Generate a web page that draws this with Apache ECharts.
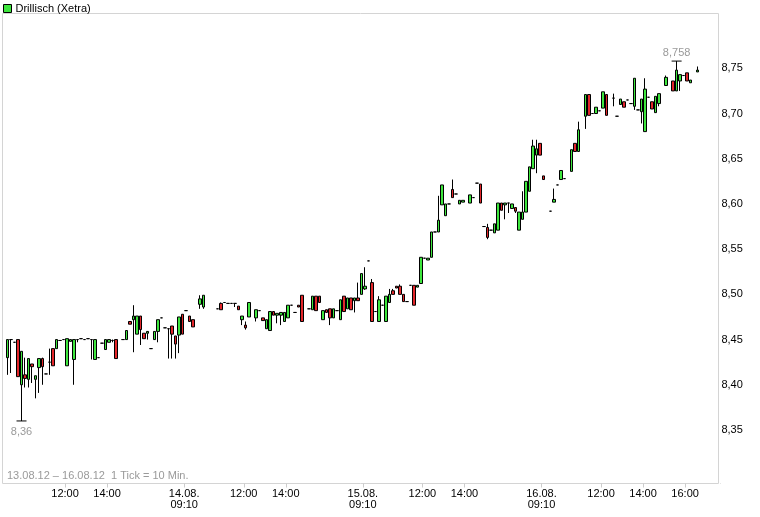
<!DOCTYPE html>
<html>
<head>
<meta charset="utf-8">
<script src="https://cdn.jsdelivr.net/npm/echarts@6/dist/echarts.min.js"></script>
<style>
html,body{margin:0;padding:0;background:#fff;}
#chart{width:760px;height:517px;}
</style>
</head>
<body>
<div id="chart"></div>
<script>
// ---- data ----
const seriesName = 'Drillisch (Xetra)';
const subtitle = '13.08.12 \u2013 16.08.12  1 Tick = 10 Min.';
const days = ['13.08.', '14.08.', '15.08.', '16.08.'];
const firstSlot = '09:10';
const lastSlot = '17:30';
const tickLabels = ['13.08. 12:00', '13.08. 14:00', '14.08. 09:10', '14.08. 12:00', '14.08. 14:00',
  '15.08. 09:10', '15.08. 12:00', '15.08. 14:00', '16.08. 09:10', '16.08. 12:00', '16.08. 14:00', '16.08. 16:00'];
const yTicks = [8.35, 8.40, 8.45, 8.50, 8.55, 8.60, 8.65, 8.70, 8.75];

const open = [
8.430,8.450,8.447,8.450,8.400,8.411,8.406,8.423,8.406,8.419,
8.429,8.412,8.425,8.440,8.440,8.449,8.450,8.421,8.448,8.428,
8.450,8.451,8.450,8.451,8.450,8.428,8.430,8.446,8.439,8.447,
8.449,8.450,null,8.450,8.450,8.470,8.472,8.456,8.476,8.457,
8.457,8.440,8.450,8.459,8.474,8.463,8.462,8.465,8.454,8.455,
8.478,8.482,8.476,8.472,null,8.489,8.486,null,null,null,
8.484,8.490,8.491,8.490,8.490,8.490,8.487,8.472,8.466,8.475,
null,8.474,8.482,8.474,8.462,8.460,8.481,8.477,8.477,8.470,
8.474,8.488,8.480,8.488,8.499,null,8.484,8.483,8.498,8.498,
8.472,8.483,8.484,8.474,8.482,8.472,8.498,8.484,8.496,8.493,
8.496,8.500,8.506,8.537,8.513,8.481,8.470,8.488,8.470,8.491,
8.504,8.509,8.509,8.500,8.492,8.510,8.510,8.508,8.512,8.540,
8.538,8.541,8.569,8.569,8.599,8.587,8.600,8.616,8.611,8.600,
8.602,null,8.601,8.607,8.623,8.622,8.575,8.574,8.571,8.568,
8.571,8.601,8.599,8.601,8.595,8.596,8.571,8.583,8.591,8.614,
8.639,8.654,8.667,8.631,null,8.592,8.602,8.621,8.627,8.628,
null,8.636,8.667,8.658,null,8.697,8.721,8.700,8.700,8.703,
8.706,8.721,null,8.717,8.697,8.710,8.713,8.715,8.711,8.708,
8.704,8.702,8.680,8.718,8.713,8.701,8.711,null,8.731,null,
8.736,8.725,8.736,8.742,8.745,8.734,null,8.746];
const close = [
8.450,8.450,8.447,8.409,8.437,8.407,8.429,8.420,8.410,8.429,
8.420,8.412,8.425,8.421,8.450,8.449,8.450,8.451,8.450,8.450,
8.450,8.451,8.450,8.451,8.450,8.450,8.430,8.446,8.450,8.450,
8.449,8.429,null,8.450,8.460,8.467,8.476,8.476,8.461,8.451,
8.459,8.440,8.459,8.472,8.474,8.463,8.462,8.456,8.445,8.475,
8.456,8.482,8.470,8.464,null,8.495,8.499,null,null,null,
8.484,8.483,8.491,8.490,8.490,8.490,8.483,8.476,8.463,8.491,
null,8.483,8.482,8.471,8.472,8.481,8.477,8.479,8.480,8.480,
8.488,8.488,8.480,8.486,8.470,null,8.484,8.498,8.482,8.491,
8.482,8.480,8.474,8.484,8.482,8.494,8.481,8.496,8.483,8.496,
8.493,8.523,8.509,8.537,8.470,8.481,8.494,8.488,8.498,8.500,
8.500,8.507,8.500,8.492,8.492,8.510,8.488,8.510,8.541,8.540,
8.540,8.569,8.569,8.582,8.621,8.600,8.600,8.607,8.611,8.604,
8.604,null,8.610,8.607,8.623,8.601,8.575,8.563,8.571,8.578,
8.601,8.593,8.601,8.601,8.600,8.592,8.591,8.591,8.625,8.641,
8.664,8.661,8.654,8.627,null,8.592,8.605,8.621,8.637,8.628,
null,8.660,8.658,8.682,null,8.721,8.698,8.700,8.707,8.703,
8.724,8.698,null,8.717,8.697,8.716,8.707,8.715,8.711,8.739,
8.704,8.716,8.727,8.718,8.705,8.719,8.722,null,8.740,null,
8.725,8.748,8.743,8.742,8.736,8.737,null,8.748];
const low = [
8.411,8.413,8.447,8.409,8.360,8.397,8.397,8.402,8.385,8.391,
8.400,8.412,8.411,8.421,8.440,8.449,8.450,8.421,8.448,8.400,
8.447,8.451,8.450,8.451,8.428,8.428,8.430,8.446,8.439,8.447,
8.447,8.429,null,8.450,8.450,8.467,8.436,8.456,8.444,8.451,
8.450,8.440,8.450,8.447,8.474,8.463,8.429,8.429,8.429,8.435,
8.456,8.482,8.470,8.464,null,8.484,8.484,null,null,null,
8.484,8.483,8.491,8.490,8.490,8.486,8.483,8.466,8.461,8.475,
null,8.470,8.482,8.471,8.462,8.460,8.477,8.468,8.466,8.470,
8.474,8.488,8.480,8.486,8.470,null,8.484,8.483,8.482,8.491,
8.472,8.480,8.466,8.474,8.482,8.472,8.481,8.484,8.483,8.480,
8.493,8.500,8.505,8.537,8.470,8.481,8.470,8.488,8.470,8.491,
8.500,8.507,8.500,8.492,8.492,8.510,8.488,8.508,8.512,8.540,
8.538,8.541,8.569,8.569,8.599,8.587,8.600,8.607,8.611,8.600,
8.602,null,8.601,8.607,8.623,8.601,8.575,8.561,8.571,8.568,
8.571,8.593,8.583,8.590,8.595,8.590,8.571,8.583,8.591,8.614,
8.639,8.634,8.654,8.627,null,8.592,8.602,8.621,8.627,8.628,
null,8.636,8.658,8.658,null,8.683,8.698,8.700,8.700,8.703,
8.706,8.698,null,8.708,8.697,8.710,8.707,8.715,8.711,8.704,
8.704,8.689,8.680,8.718,8.705,8.701,8.708,null,8.731,null,
8.725,8.725,8.725,8.742,8.736,8.734,null,8.746];
const high = [
8.450,8.450,8.447,8.450,8.437,8.430,8.429,8.423,8.410,8.429,
8.430,8.412,8.440,8.440,8.450,8.449,8.450,8.451,8.450,8.450,
8.450,8.451,8.450,8.451,8.450,8.450,8.430,8.446,8.450,8.450,
8.450,8.450,null,8.450,8.460,8.470,8.488,8.476,8.476,8.457,
8.459,8.440,8.459,8.472,8.474,8.463,8.462,8.465,8.454,8.475,
8.478,8.482,8.476,8.472,null,8.499,8.499,null,null,null,
8.484,8.491,8.491,8.490,8.490,8.490,8.487,8.476,8.470,8.491,
null,8.483,8.482,8.474,8.472,8.481,8.481,8.479,8.480,8.480,
8.488,8.488,8.480,8.488,8.499,null,8.484,8.498,8.498,8.498,
8.482,8.483,8.484,8.484,8.482,8.494,8.498,8.496,8.496,8.496,
8.513,8.523,8.530,8.537,8.517,8.481,8.498,8.488,8.498,8.506,
8.506,8.509,8.511,8.500,8.492,8.510,8.510,8.510,8.541,8.540,
8.540,8.569,8.569,8.609,8.621,8.600,8.600,8.627,8.611,8.604,
8.604,null,8.610,8.607,8.623,8.622,8.575,8.578,8.571,8.578,
8.601,8.601,8.601,8.601,8.600,8.596,8.591,8.614,8.625,8.641,
8.671,8.671,8.667,8.631,null,8.592,8.617,8.621,8.637,8.628,
null,8.660,8.667,8.691,null,8.721,8.721,8.700,8.707,8.703,
8.724,8.721,null,8.722,8.697,8.716,8.713,8.715,8.711,8.739,
8.704,8.716,8.739,8.718,8.713,8.719,8.722,null,8.742,null,
8.736,8.758,8.743,8.742,8.745,8.737,null,8.752];

// ---- build ----
function toMin(s){ const p = s.split(':'); return (+p[0]) * 60 + (+p[1]); }
function pad(n){ return (n < 10 ? '0' : '') + n; }
const categories = [];
days.forEach(function(d){
  for (let m = toMin(firstSlot); m <= toMin(lastSlot); m += 10) {
    categories.push(d + ' ' + pad(Math.floor(m / 60)) + ':' + pad(m % 60));
  }
});
const candleData = open.map(function(o, i){
  return o == null ? '-' : [o, close[i], low[i], high[i]];
});
let minIdx = 0, maxIdx = 0;
low.forEach(function(v, i){ if (v != null && v < low[minIdx]) minIdx = i; });
high.forEach(function(v, i){ if (v != null && v > high[maxIdx]) maxIdx = i; });
const deNum = function(v){ return String(v).replace('.', ','); };

const GREEN = '#3ee63e', RED = '#e3262a';
const FONT = '"Liberation Sans", Arial, Helvetica, sans-serif';
const showTick = function(idx, val){ return tickLabels.indexOf(val) >= 0; };

const chart = echarts.init(document.getElementById('chart'), null, {renderer: 'canvas'});
chart.setOption({
  animation: false,
  textStyle: {fontFamily: FONT},
  title: {
    text: subtitle, left: 7, top: 470, padding: 0,
    textStyle: {fontSize: 11, fontWeight: 'normal', color: '#9a9a9a', fontFamily: FONT}
  },
  legend: {
    left: 3, top: 3, padding: 0, itemWidth: 8, itemHeight: 8, itemGap: 4,
    textStyle: {fontSize: 11, color: '#000', fontFamily: FONT, padding: [0, 0, 0, -1]},
    data: [{name: seriesName, icon: 'rect', itemStyle: {color: GREEN, borderColor: '#000', borderWidth: 1}}]
  },
  graphic: [{
    type: 'rect', silent: true, z: -10,
    shape: {x: 2.5, y: 13.5, width: 716, height: 470},
    style: {fill: 'none', stroke: '#d4d4d4', lineWidth: 1}
  }, {
    // hides the closing band-boundary tick that the category axis adds at its far end
    type: 'rect', silent: true, z: 100,
    shape: {x: 719, y: 484, width: 6, height: 6},
    style: {fill: '#fff', stroke: null}
  }],
  grid: {left: 5.75, right: 39.6, top: 23.1, bottom: 41.8, containLabel: false},
  xAxis: {
    type: 'category', data: categories, boundaryGap: true, offset: 8.3,
    axisLine: {show: false},
    axisTick: {show: true, length: 4, interval: showTick, lineStyle: {color: '#cccccc'}},
    axisLabel: {
      interval: showTick, fontSize: 11, color: '#000', lineHeight: 11, margin: 5,
      padding: [0, 4, 0, 0], fontFamily: FONT,
      formatter: function(val){
        const p = val.split(' ');
        return p[1] === firstSlot ? p[0] + '\n' + p[1] : p[1];
      }
    },
    splitLine: {show: false}
  },
  yAxis: {
    type: 'value', position: 'right', min: 8.30, max: 8.80, interval: 0.05,
    axisLine: {show: false}, axisTick: {show: false}, splitLine: {show: false},
    axisLabel: {
      fontSize: 11, color: '#000', margin: 1, fontFamily: FONT,
      formatter: function(v){
        for (let k = 0; k < yTicks.length; k++) {
          if (Math.abs(yTicks[k] - v) < 1e-6) return yTicks[k].toFixed(2).replace('.', ',');
        }
        return '';
      }
    }
  },
  series: [{
    type: 'candlestick', name: seriesName, data: candleData, barWidth: 3,
    itemStyle: {color: GREEN, color0: RED, borderColor: '#000', borderColor0: '#000', borderColorDoji: '#000', borderWidth: 1},
    emphasis: {disabled: true},
    markPoint: {
      silent: true, animation: false,
      data: [
        {coord: [categories[minIdx], low[minIdx]], symbol: 'rect', symbolSize: [10, 1],
         itemStyle: {color: '#000'},
         label: {show: true, position: 'bottom', distance: 5, formatter: deNum(low[minIdx]), color: '#9a9a9a', fontSize: 11, fontFamily: FONT}},
        {coord: [categories[maxIdx], high[maxIdx]], symbol: 'rect', symbolSize: [10, 1],
         itemStyle: {color: '#000'},
         label: {show: true, position: 'top', distance: 2, formatter: deNum(high[maxIdx]), color: '#9a9a9a', fontSize: 11, fontFamily: FONT}}
      ]
    }
  }]
});
</script>
</body>
</html>
